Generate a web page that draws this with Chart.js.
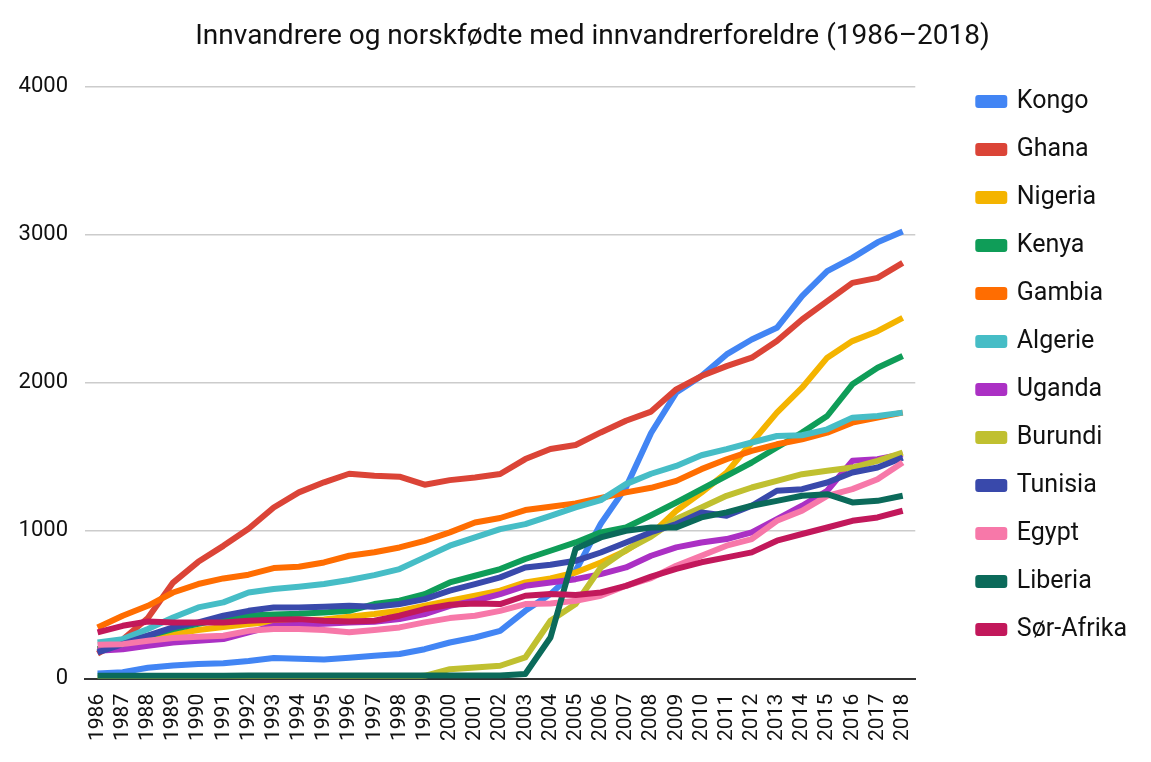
<!DOCTYPE html>
<html lang="no">
<head>
    <meta charset="UTF-8">
    <title>Innvandrere og norskfødte med innvandrerforeldre</title>
    <script src="https://cdn.jsdelivr.net/npm/chart.js"></script>
    <style>
        html, body { margin: 0; padding: 0; background: #fff; }
        #wrap { width: 1151px; height: 762px; }
    </style>
</head>
<body>
    <div id="wrap"><canvas id="chart"></canvas></div>

    <script>
        // år (1986–2018)
        const years = ['1986','1987','1988','1989','1990','1991','1992','1993','1994','1995','1996',
            '1997','1998','1999','2000','2001','2002','2003','2004','2005','2006','2007',
            '2008','2009','2010','2011','2012','2013','2014','2015','2016','2017','2018'];

        const kongo     = [35,45,75,90,100,105,120,140,135,130,142,155,167,200,245,279,324,459,572,730,1047,1293,1660,1933,2045,2191,2292,2371,2584,2753,2843,2948,3022];
        const ghana     = [170,265,410,650,790,898,1013,1157,1259,1327,1385,1372,1365,1311,1342,1360,1383,1484,1552,1579,1664,1743,1805,1955,2045,2112,2169,2281,2427,2551,2674,2708,2809];
        const nigeria   = [200,235,270,300,330,350,370,385,395,400,419,437,459,493,527,561,595,651,678,718,786,865,975,1135,1258,1393,1596,1798,1966,2169,2281,2348,2438];
        const kenya     = [200,240,290,336,371,405,428,435,439,448,459,505,527,572,651,696,741,809,865,921,989,1022,1105,1191,1281,1371,1461,1562,1663,1775,1989,2101,2180];
        const gambia    = [347,426,493,583,640,678,703,748,757,786,831,855,887,932,989,1056,1086,1140,1162,1185,1221,1259,1290,1337,1416,1483,1539,1584,1618,1663,1730,1764,1798];
        const algerie   = [245,268,336,414,482,516,583,606,622,640,667,700,741,820,899,955,1011,1045,1101,1158,1207,1315,1385,1438,1510,1551,1596,1640,1645,1685,1764,1775,1798];
        const uganda    = [189,200,223,245,257,268,313,358,365,372,380,385,403,437,493,527,572,628,651,673,707,752,831,888,921,944,989,1079,1169,1270,1472,1483,1517];
        const burundi   = [5,5,5,5,5,5,8,8,8,8,8,8,10,20,65,76,88,144,392,505,752,870,960,1079,1157,1236,1292,1337,1382,1405,1427,1472,1528];
        const tunisia   = [178,234,291,347,381,426,459,482,482,486,493,486,505,538,595,640,685,752,770,797,853,921,990,1045,1124,1101,1169,1270,1281,1326,1393,1427,1494];
        const egypt     = [230,234,257,275,284,291,324,336,336,329,315,330,347,381,410,426,459,505,509,527,561,628,680,764,831,899,944,1067,1135,1236,1281,1348,1461];
        const liberia   = [20,20,20,20,20,20,22,22,22,22,22,22,22,22,22,22,22,32,279,878,955,1000,1022,1022,1090,1124,1169,1202,1236,1247,1191,1202,1236];
        const sorAfrika = [313,358,387,381,381,381,392,399,403,392,387,392,426,471,500,509,505,561,572,566,583,628,690,742,787,820,854,933,978,1022,1067,1090,1135];

        const names  = ['Kongo','Ghana','Nigeria','Kenya','Gambia','Algerie','Uganda','Burundi','Tunisia','Egypt','Liberia','Sør-Afrika'];
        const series = [kongo, ghana, nigeria, kenya, gambia, algerie, uganda, burundi, tunisia, egypt, liberia, sorAfrika];
        const colors = ['#4285F4','#DB4437','#F4B400','#0F9D58','#FF6D01','#46BDC6','#AB30C4','#C0C030','#3949AB','#F778A9','#0B6A5A','#C2185B'];

        const FONT = 'Roboto';

        // senere serier tegnes øverst
        const datasets = names.map((n, i) => ({
            label: n,
            data: series[i],
            borderColor: colors[i],
            backgroundColor: colors[i],
            borderWidth: 6,
            borderJoinStyle: 'round',
            pointRadius: 0,
            fill: false,
            tension: 0,
            order: names.length - i
        }));

        // flytt tittelen litt mot høyre, som i originalen
        const shiftTitle = {
            id: 'shiftTitle',
            afterLayout(chart) {
                const t = chart.titleBlock;
                if (t) { t.left += 24; t.right += 24; }
            }
        };

        new Chart(document.getElementById('chart'), {
            type: 'line',
            data: { labels: years, datasets: datasets },
            plugins: [shiftTitle],
            options: {
                responsive: true,
                maintainAspectRatio: false,
                animation: false,
                layout: { padding: { left: 0, right: 14, top: 6, bottom: 14 } },
                scales: {
                    x: {
                        offset: true,
                        grid: { display: false },
                        border: { display: true, color: '#333', width: 2 },
                        ticks: {
                            color: '#111',
                            font: { family: FONT, size: 21 },
                            minRotation: 90, maxRotation: 90, autoSkip: false, padding: 7
                        }
                    },
                    y: {
                        min: 0, max: 4000,
                        afterFit: (s) => { s.width = 85; },
                        grid: { color: '#cccccc', lineWidth: 1.5, drawTicks: false },
                        border: { display: false },
                        ticks: {
                            stepSize: 1000, color: '#111', padding: 17,
                            font: { family: FONT, size: 22 },
                            callback: (v) => String(v)
                        }
                    },
                    // tom plass mellom plott og forklaring
                    gap: {
                        position: 'right',
                        type: 'linear',
                        afterFit: (s) => { s.width = 40; },
                        grid: { display: false },
                        border: { display: false },
                        ticks: { display: false }
                    }
                },
                plugins: {
                    title: {
                        display: true,
                        text: 'Innvandrere og norskfødte med innvandrerforeldre (1986–2018)',
                        color: '#111',
                        font: { family: FONT, size: 28, weight: 'normal' },
                        padding: { top: 14, bottom: 33 }
                    },
                    legend: {
                        position: 'right',
                        align: 'start',
                        title: { display: true, text: ' ', font: { size: 10 }, padding: { top: 24, bottom: 24 } },
                        labels: {
                            color: '#111',
                            font: { family: FONT, size: 25 },
                            boxWidth: 26, boxHeight: 7,
                            padding: 23,
                            sort: (a, b) => a.datasetIndex - b.datasetIndex
                        }
                    },
                    tooltip: { enabled: false }
                }
            }
        });
    </script>
</body>
</html>
